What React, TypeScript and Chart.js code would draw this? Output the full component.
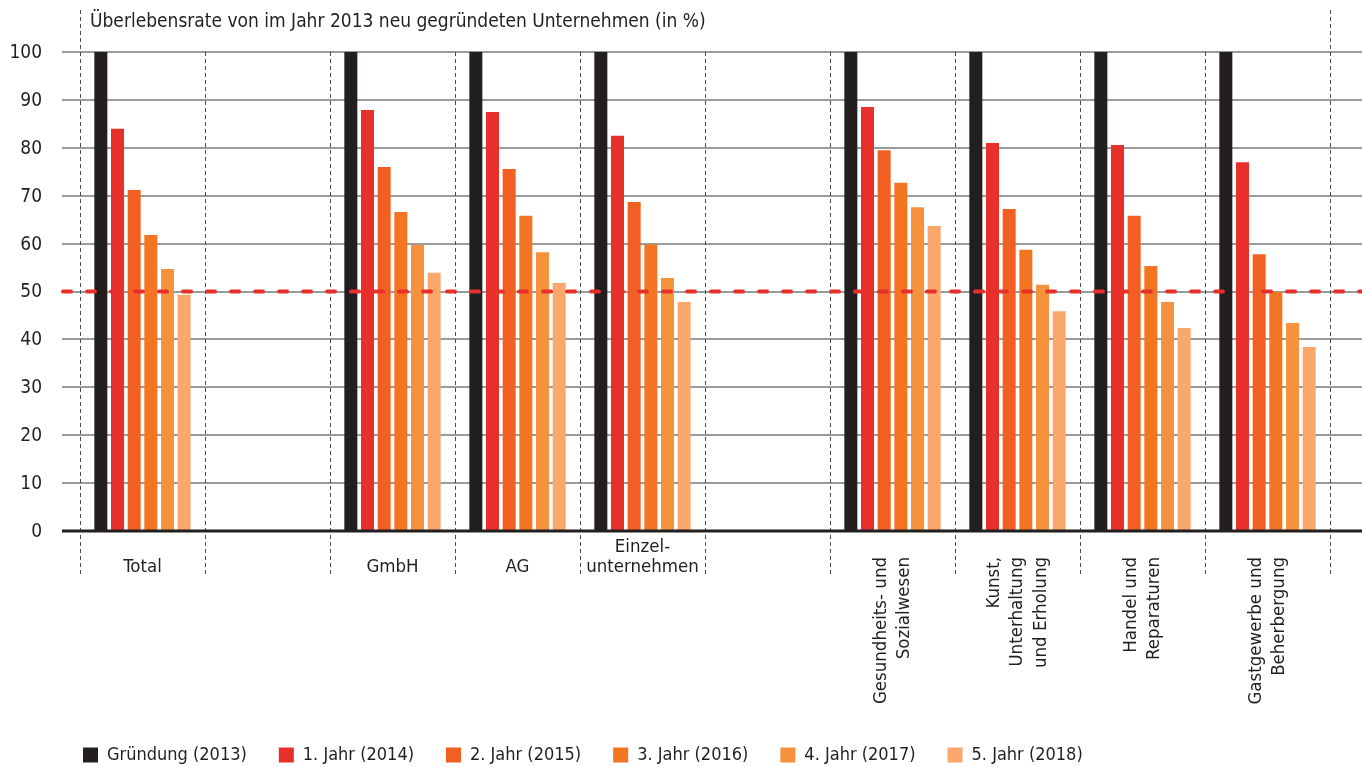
import { useEffect, useRef } from "react";
import { Chart, registerables } from "chart.js";

Chart.register(...registerables);

const chartTitle = "Überlebensrate von im Jahr 2013 neu gegründeten Unternehmen (in %)";

const categories: string[][] = [
  ["Total"],
  [""],
  ["GmbH"],
  ["AG"],
  ["Einzel-", "unternehmen"],
  [""],
  ["Gesundheits- und", "Sozialwesen"],
  ["Kunst,", "Unterhaltung", "und Erholung"],
  ["Handel und", "Reparaturen"],
  ["Gastgewerbe und", "Beherbergung"],
];
const rotatedLabel = [false, false, false, false, false, false, true, true, true, true];

const seriesLabels = [
  "Gründung (2013)",
  "1. Jahr (2014)",
  "2. Jahr (2015)",
  "3. Jahr (2016)",
  "4. Jahr (2017)",
  "5. Jahr (2018)",
];
const seriesColors = ["#231f20", "#e8302a", "#f15f22", "#f37521", "#f6923d", "#f9a76b"];

const gruendung = [100, null, 100, 100, 100, null, 100, 100, 100, 100];
const jahr1 = [84.0, null, 87.9, 87.5, 82.5, null, 88.5, 81.0, 80.6, 77.0];
const jahr2 = [71.2, null, 76.0, 75.6, 68.7, null, 79.5, 67.2, 65.8, 57.8];
const jahr3 = [61.8, null, 66.6, 65.8, 59.8, null, 72.7, 58.7, 55.3, 49.9];
const jahr4 = [54.7, null, 59.7, 58.2, 52.8, null, 67.6, 51.4, 47.8, 43.4];
const jahr5 = [49.3, null, 53.9, 51.8, 47.8, null, 63.7, 45.9, 42.4, 38.4];
const seriesData = [gruendung, jahr1, jahr2, jahr3, jahr4, jahr5];

const yMin = 0;
const yMax = 100;
const yStep = 10;
const thresholdValue = 50;

const FONT = '"DejaVu Sans Condensed", "Liberation Sans Narrow", "DejaVu Sans", sans-serif';
const TEXT = "#231f20";

const decorPlugin = {
  id: "decor",
  beforeDatasetsDraw(chart: any) {
    const { ctx, scales, chartArea } = chart;
    const x = scales.x;
    const y = scales.y;
    ctx.save();
    // horizontal grid lines
    ctx.strokeStyle = "#7a7a7a";
    ctx.lineWidth = 1.6;
    y.ticks.forEach((t: any) => {
      if (t.value === 0) return;
      const py = Math.round(y.getPixelForValue(t.value));
      ctx.beginPath();
      ctx.moveTo(62, py);
      ctx.lineTo(chart.width, py);
      ctx.stroke();
    });
    // y tick labels
    ctx.fillStyle = TEXT;
    ctx.font = `19px ${FONT}`;
    ctx.textAlign = "right";
    ctx.textBaseline = "middle";
    y.ticks.forEach((t: any) => {
      ctx.fillText(String(t.value), 42, y.getPixelForValue(t.value) + 1);
    });
    // vertical dashed separators
    ctx.strokeStyle = "#4a4a4a";
    ctx.lineWidth = 1;
    ctx.setLineDash([4, 3]);
    const n = categories.length;
    for (let i = 0; i <= n; i++) {
      const px = Math.round(x.left + (i * x.width) / n) + 0.5;
      const top = i === 0 || i === n ? 10 : chartArea.top;
      ctx.beginPath();
      ctx.moveTo(px, top);
      ctx.lineTo(px, y.bottom + 45);
      ctx.stroke();
    }
    ctx.restore();
  },
  afterDatasetsDraw(chart: any) {
    const { ctx, scales, chartArea } = chart;
    const x = scales.x;
    const y = scales.y;
    ctx.save();
    // zero line
    const y0 = y.getPixelForValue(0);
    ctx.strokeStyle = TEXT;
    ctx.lineWidth = 3;
    ctx.beginPath();
    ctx.moveTo(62, y0);
    ctx.lineTo(chart.width, y0);
    ctx.stroke();
    // 50% threshold
    const y50 = y.getPixelForValue(thresholdValue);
    ctx.strokeStyle = "#e8302a";
    ctx.lineWidth = 4;
    ctx.lineCap = "round";
    ctx.setLineDash([8, 16]);
    ctx.beginPath();
    ctx.moveTo(63, y50);
    ctx.lineTo(chart.width, y50);
    ctx.stroke();
    ctx.setLineDash([]);
    // category labels
    ctx.fillStyle = TEXT;
    ctx.font = `18.5px ${FONT}`;
    categories.forEach((lines, i) => {
      const cx = x.getPixelForValue(i);
      if (!rotatedLabel[i]) {
        ctx.textAlign = "center";
        ctx.textBaseline = "middle";
        lines.forEach((ln, j) => {
          ctx.fillText(ln, cx, chartArea.bottom + 36 - (lines.length - 1 - j) * 20);
        });
      } else {
        ctx.textAlign = "right";
        ctx.textBaseline = "middle";
        lines.forEach((ln, j) => {
          const lx = cx + (j - (lines.length - 1) / 2) * 23.5;
          ctx.save();
          ctx.translate(lx, chartArea.bottom + 26);
          ctx.rotate(-Math.PI / 2);
          ctx.fillText(ln, 0, 0);
          ctx.restore();
        });
      }
    });
    // title
    ctx.textAlign = "left";
    ctx.textBaseline = "middle";
    ctx.font = `19px ${FONT}`;
    ctx.fillText(chartTitle, chartArea.left + 10, 22);
    ctx.restore();
  },
};

export default function App() {
  const ref = useRef<HTMLCanvasElement>(null);
  useEffect(() => {
    if (!ref.current) return;
    const chart = new Chart(ref.current, {
      type: "bar",
      data: {
        labels: categories.map((c) => c.join(" ")),
        datasets: seriesData.map((d, i) => ({
          label: seriesLabels[i],
          data: d as any,
          backgroundColor: seriesColors[i],
          borderWidth: 0,
          categoryPercentage: 0.8,
          barPercentage: 0.78,
        })),
      },
      options: {
        responsive: false,
        animation: false,
        events: [],
        layout: { padding: { top: 52, left: 51, right: 32, bottom: 0 } },
        scales: {
          x: {
            grid: { display: false, drawTicks: false },
            border: { display: false },
            ticks: { display: false },
            afterFit: (s: any) => {
              s.height = 183;
            },
          },
          y: {
            min: yMin,
            max: yMax,
            grid: { display: false, drawTicks: false },
            border: { display: false },
            ticks: { display: false, stepSize: yStep },
            afterFit: (s: any) => {
              s.width = 29;
            },
          },
        },
        plugins: {
          tooltip: { enabled: false },
          title: { display: false },
          legend: {
            position: "bottom",
            align: "start",
            maxHeight: 53,
            labels: {
              boxWidth: 15,
              boxHeight: 15,
              padding: 32,
              color: TEXT,
              font: { family: FONT, size: 18 },
            },
          },
        },
      },
      plugins: [decorPlugin],
    });
    return () => chart.destroy();
  }, []);
  return (
    <div style={{ position: "fixed", left: 0, top: 0, width: 1362, height: 767, background: "#fff" }}>
      <canvas ref={ref} width={1362} height={767} style={{ display: "block" }} />
    </div>
  );
}
